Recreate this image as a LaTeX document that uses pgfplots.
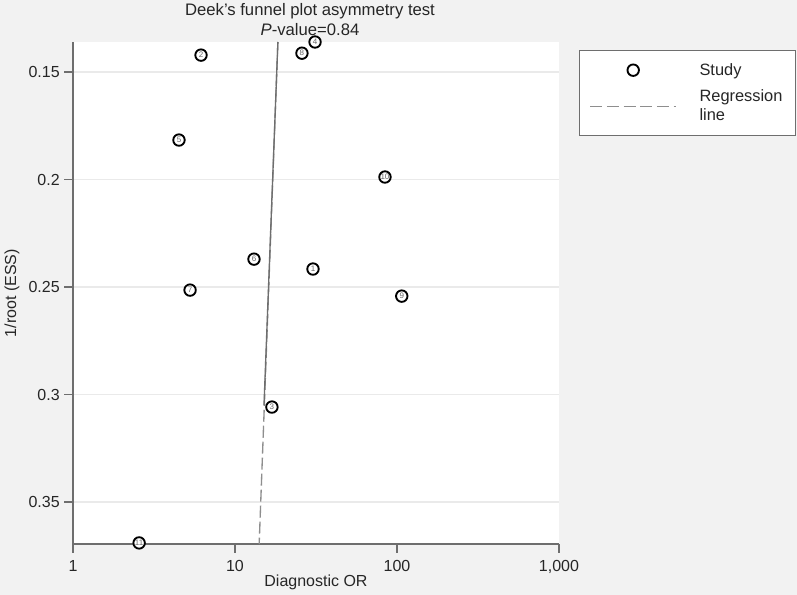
\documentclass[border=0pt]{standalone}
\usepackage{pgfplots}
\pgfplotsset{compat=1.18}
\usepackage{fontspec}
\setmainfont{Liberation Sans}
\definecolor{bg}{HTML}{F2F2F2}
\definecolor{axcol}{HTML}{6E6E6E}
\definecolor{gridcol}{HTML}{EAEAEA}
\definecolor{reggray}{HTML}{8E8E8E}
\begin{document}
\begin{tikzpicture}
% 1 px of the reference = 0.75pt
\fill[bg] (0,0) rectangle (597.75pt,-446.25pt);
\node[align=center, font=\fontsize{12.5}{14.5}\selectfont, text=black!85]
  at (232.5pt,-14.6pt) {Deek’s funnel plot asymmetry test\\\textit{P}-value=0.84};
\begin{axis}[
  at={(54.75pt,-408pt)}, anchor=south west,
  width=364.5pt, height=376.5pt, scale only axis,
  clip=false,
  xmode=log, xmin=1, xmax=1000,
  xtick={1,10,100,1000}, xticklabels={1,10,100,{1,000}},
  xminorticks=false,
  y dir=reverse, ymin=0.136, ymax=0.3695,
  ytick={0.15,0.2,0.25,0.3,0.35},
  yticklabels={0.15,0.2,0.25,0.3,0.35},
  axis x line*=bottom, axis y line*=left,
  axis line style={axcol, line width=1.1pt, -},
  tick align=outside, major tick length=6.5pt,
  tick style={axcol, line width=1pt},
  ymajorgrids, major grid style={gridcol, line width=1pt},
  axis background/.style={fill=white},
  ticklabel style={font=\fontsize{12}{14}\selectfont, text=black!85},
  xticklabel style={yshift=-2pt},
  xlabel={Diagnostic OR}, ylabel={1/root (ESS)},
  label style={font=\fontsize{12}{14}\selectfont, text=black!85},
  xlabel style={at={(axis description cs:0.5,-0.0757)}, anchor=center},
  ylabel style={at={(axis description cs:-0.1255,0.5)}, anchor=center},
  legend style={at={(axis description cs:1.0412,0.984)}, anchor=north west,
    draw=axcol, line width=0.8pt, fill=white, font=\fontsize{12.3}{13.5}\selectfont,
    text=black!85, inner xsep=7.5pt, inner ysep=7.5pt, row sep=5.5pt, column sep=15pt},
  legend cell align=left,
  reverse legend,
]
\addplot[reggray, line width=1pt, dash pattern=on 9pt off 3pt,
  legend image code/.code={\draw[reggray, line width=1pt, dash pattern=on 9pt off 3.5pt] (0pt,0pt) -- (64.5pt,0pt);}]
  coordinates {(18.4,0.136) (14.1,0.3695)};
\addplot[axcol, line width=1pt, forget plot] coordinates {(18.4,0.136) (15.1,0.305)};
\addplot[only marks, mark=*, mark size=4.3pt,
  mark options={draw=black, fill=white, line width=1.4pt},
  nodes near coords, point meta=explicit symbolic,
  every node near coord/.style={anchor=center, font=\fontsize{6}{6}\selectfont, text=black!60},
  legend image code/.code={\path[draw=none] (0pt,0pt) -- (64.5pt,0pt); \draw[black, line width=1.4pt, fill=white] (32.25pt,0pt) circle (4.3pt);}]
  coordinates {
  (30.3,0.2416) [1]
  (6.17,0.1421) [2]
  (16.9,0.3058) [3]
  (31.2,0.1360) [4]
  (4.51,0.1816) [5]
  (13.1,0.2370) [6]
  (5.28,0.2514) [7]
  (25.9,0.1412) [8]
  (107,0.2542) [9]
  (84.3,0.1988) [10]
  (2.56,0.3690) [11]
  };
\legend{{\shortstack[l]{Regression\\line}},Study}
\end{axis}
\pgfresetboundingbox
\path[use as bounding box] (0,0) rectangle (597.75pt,-446.25pt);
\end{tikzpicture}
\end{document}
